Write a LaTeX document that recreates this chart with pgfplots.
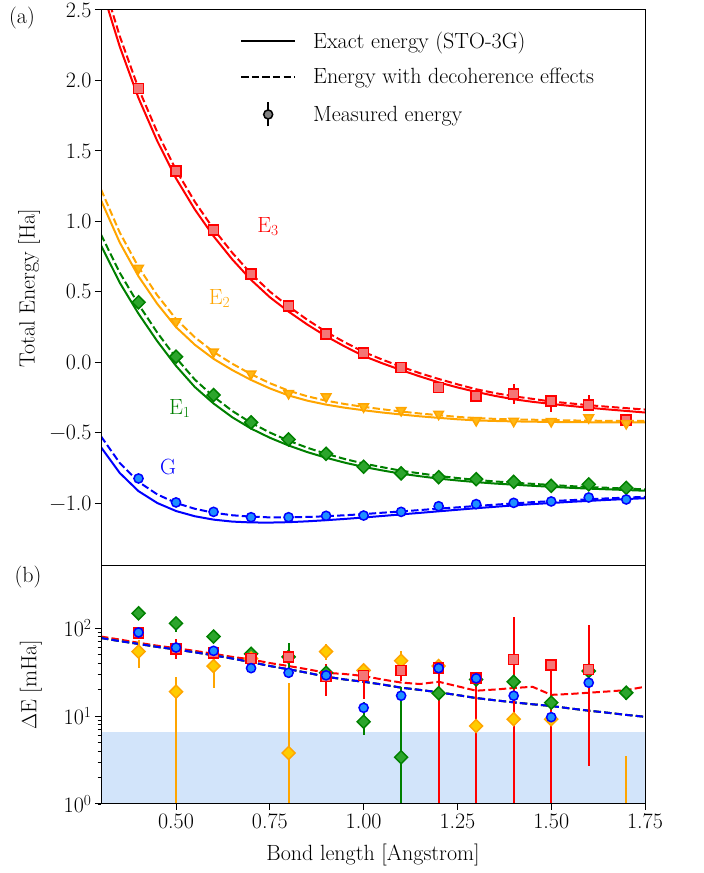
\documentclass[border=0pt]{standalone}
\usepackage{pgfplots}
\usepackage{pgfplotstable}
\pgfplotsset{compat=1.18}
\definecolor{redfill}{RGB}{244,118,118}
\definecolor{morange}{RGB}{255,165,0}
\definecolor{orangefill}{RGB}{255,184,20}
\definecolor{goldfill}{RGB}{255,204,0}
\definecolor{mgreen}{RGB}{0,128,0}
\definecolor{greenfill}{RGB}{44,165,44}
\definecolor{mblue}{RGB}{0,0,255}
\definecolor{bluefill}{RGB}{30,144,255}
\definecolor{band}{RGB}{210,228,250}
\newcommand{\bigf}{\fontsize{22}{26}\selectfont}

\pgfplotstableread{
R     Gs     Gd      E1s    E1d     E2s    E2d     E3s    E3d     dB    dR
0.30 -0.602 -0.525  0.830  0.907   1.150  1.227   2.670  2.750  77.0 80.0
0.35 -0.785 -0.714  0.565  0.636   0.850  0.921   2.240  2.314  71.0 74.0
0.40 -0.914 -0.848  0.345  0.411   0.610  0.676   1.875  1.943  66.0 68.0
0.45 -0.998 -0.937  0.150  0.211   0.415  0.476   1.570  1.633  61.0 63.0
0.50 -1.055 -0.998 -0.025  0.032   0.250  0.307   1.305  1.364  57.0 59.0
0.55 -1.092 -1.039 -0.175 -0.122   0.125  0.178   1.085  1.140  53.0 55.0
0.60 -1.116 -1.067 -0.292 -0.243   0.025  0.074   0.895  0.946  49.0 51.0
0.65 -1.130 -1.085 -0.390 -0.345  -0.055 -0.010   0.730  0.777  45.0 47.0
0.70 -1.136 -1.095 -0.470 -0.429  -0.125 -0.084   0.585  0.629  41.0 44.0
0.75 -1.137 -1.100 -0.535 -0.498  -0.185 -0.148   0.462  0.502  37.0 40.0
0.80 -1.134 -1.100 -0.590 -0.556  -0.235 -0.201   0.360  0.397  34.0 37.0
0.85 -1.128 -1.097 -0.637 -0.606  -0.272 -0.241   0.268  0.302  31.0 34.0
0.90 -1.120 -1.092 -0.677 -0.649  -0.300 -0.272   0.185  0.216  28.0 31.0
0.95 -1.111 -1.085 -0.712 -0.686  -0.322 -0.296   0.112  0.142  26.0 30.0
1.00 -1.101 -1.077 -0.742 -0.718  -0.340 -0.316   0.045  0.074  24.5 28.5
1.05 -1.090 -1.067 -0.767 -0.744  -0.356 -0.333  -0.007  0.019  22.8 26.0
1.10 -1.079 -1.058 -0.790 -0.769  -0.370 -0.349  -0.055 -0.031  21.0 24.0
1.15 -1.068 -1.048 -0.808 -0.788  -0.383 -0.363  -0.100 -0.077  19.8 23.1
1.20 -1.057 -1.038 -0.825 -0.806  -0.394 -0.375  -0.142 -0.118  18.6 24.5
1.25 -1.046 -1.029 -0.838 -0.821  -0.404 -0.387  -0.178 -0.156  17.3 21.8
1.30 -1.035 -1.019 -0.850 -0.834  -0.412 -0.396  -0.210 -0.191  16.0 19.4
1.35 -1.025 -1.010 -0.860 -0.845  -0.416 -0.401  -0.238 -0.218  15.1 20.0
1.40 -1.015 -1.001 -0.868 -0.854  -0.419 -0.405  -0.262 -0.241  14.3 20.8
1.45 -1.006 -0.992 -0.876 -0.862  -0.421 -0.407  -0.280 -0.259  13.6 21.5
1.50 -0.998 -0.985 -0.883 -0.870  -0.423 -0.410  -0.295 -0.278  13.0 17.4
1.55 -0.990 -0.978 -0.890 -0.878  -0.424 -0.412  -0.309 -0.291  12.2 17.8
1.60 -0.983 -0.972 -0.896 -0.885  -0.425 -0.414  -0.322 -0.304  11.5 18.4
1.65 -0.976 -0.965 -0.901 -0.890  -0.426 -0.415  -0.334 -0.315  10.9 19.0
1.70 -0.970 -0.960 -0.906 -0.896  -0.426 -0.416  -0.345 -0.325  10.3 19.7
1.75 -0.964 -0.954 -0.911 -0.901  -0.426 -0.416  -0.356 -0.335   9.8 21.5
}\curves

\pgfplotsset{
  common/.style={
    scale only axis, width=544pt,
    xmin=0.3, xmax=1.75,
    font=\bigf, tick label style={font=\bigf}, label style={font=\bigf},
    tick align=outside, xtick pos=left, ytick pos=left,
    major tick length=6pt, minor tick length=3.5pt,
    axis line style={line width=1pt},
    every tick/.style={black, line width=1pt},
    every minor tick/.style={black, line width=0.8pt},
    axis on top,
  },
  errs/.style={error bars/.cd, y dir=both, y explicit, error mark=none,
    error bar style={line width=2pt, #1}},
  solid curve/.style={#1, line width=2pt, no marks, forget plot},
  dash curve/.style={#1, line width=2pt, no marks, forget plot, dash pattern=on 7.4pt off 3.2pt},
}

\begin{document}
\begin{tikzpicture}[x=1pt,y=1pt]
\useasboundingbox (0,0) rectangle (704,873);

% ---------------- (a) ----------------
\begin{axis}[common, name=top,
  at={(101pt,863pt)}, anchor=north west, height=556pt,
  ymin=-1.445, ymax=2.5,
  xtick=\empty,
  ytick={-1,-0.5,0,0.5,1,1.5,2,2.5},
  yticklabels={−1.0,−0.5,0.0,0.5,1.0,1.5,2.0,2.5},
  ylabel={Total Energy [Ha]},
  ylabel style={at={(axis description cs:-0.132,0.5)}, anchor=center},
  legend style={draw=none, fill=none, font=\bigf, at={(axis description cs:0.2555,0.967)}, anchor=north west,
    row sep=13pt, column sep=14pt, legend cell align=left, inner sep=0pt, nodes={inner sep=3pt}},
]
\addlegendimage{legend image code/.code={\draw[black,line width=2pt] (0pt,0pt) -- (54pt,0pt);}}
\addlegendentry{Exact energy (STO-3G)}
\addlegendimage{legend image code/.code={\draw[black,line width=2pt,dash pattern=on 7.4pt off 3.2pt] (0pt,0pt) -- (54pt,0pt);}}
\addlegendentry{Energy with decoherence effects}
\addlegendimage{legend image code/.code={\draw[black,line width=2pt] (27pt,-12pt) -- (27pt,12pt); \draw[black,fill=gray,line width=1.5pt] (27pt,0pt) circle (4.5pt);}}
\addlegendentry{Measured energy}

\addplot[solid curve=red] table[x=R,y=E3s] {\curves};
\addplot[dash curve=red] table[x=R,y=E3d] {\curves};
\addplot[solid curve=morange] table[x=R,y=E2s] {\curves};
\addplot[dash curve=morange] table[x=R,y=E2d] {\curves};
\addplot[solid curve=mgreen] table[x=R,y=E1s] {\curves};
\addplot[dash curve=mgreen] table[x=R,y=E1d] {\curves};
\addplot[solid curve=mblue] table[x=R,y=Gs] {\curves};
\addplot[dash curve=mblue] table[x=R,y=Gd] {\curves};

% measured markers
\addplot[forget plot, only marks, mark=square*, mark size=5pt, mark options={draw=red, fill=redfill, line width=1.5pt}, errs=red]
coordinates {(0.4,1.943) (0.5,1.357) (0.6,0.938) (0.7,0.627) (0.8,0.400) (0.9,0.201) (1.0,0.066) (1.1,-0.036) (1.2,-0.178) (1.3,-0.240)
 (1.4,-0.225) += (0,0.07) -= (0,0.07)
 (1.5,-0.273) += (0,0.01) -= (0,0.08)
 (1.6,-0.301) += (0,0.07) -= (0,0.03)
 (1.7,-0.408) += (0,0.03) -= (0,0.03)};
\addplot[forget plot, only marks, mark=triangle*, mark size=5.5pt, mark options={rotate=180, draw=morange, fill=orangefill, line width=1.5pt}, errs=morange]
coordinates {(0.4,0.668) (0.5,0.288) (0.6,0.075) (0.7,-0.081) (0.8,-0.220) (0.9,-0.244) (1.0,-0.315) (1.1,-0.341) (1.2,-0.367) (1.3,-0.412) (1.4,-0.417) (1.5,-0.419) (1.6,-0.393) (1.7,-0.433)};
\addplot[forget plot, only marks, mark=square*, mark size=4.6pt, mark options={rotate=45, draw=mgreen, fill=greenfill, line width=1.5pt}, errs=mgreen]
coordinates {(0.4,0.426) (0.5,0.040) (0.6,-0.232) (0.7,-0.426) (0.8,-0.547) (0.9,-0.649) (1.0,-0.741) (1.1,-0.788) (1.2,-0.815) (1.3,-0.829) (1.4,-0.848) (1.5,-0.876) (1.6,-0.866) (1.7,-0.891)};
\addplot[forget plot, only marks, mark=*, mark size=4.6pt, mark options={draw=mblue, fill=bluefill, line width=1.5pt}, errs=mblue]
coordinates {(0.4,-0.824) (0.5,-0.994) (0.6,-1.061) (0.7,-1.099) (0.8,-1.099) (0.9,-1.089) (1.0,-1.087) (1.1,-1.061) (1.2,-1.021) (1.3,-1.006) (1.4,-0.997) (1.5,-0.987) (1.6,-0.959) (1.7,-0.973)};

\node[red, font=\bigf] at (axis cs:0.745,0.963) {E\textsubscript{3}};
\node[morange, font=\bigf] at (axis cs:0.616,0.455) {E\textsubscript{2}};
\node[mgreen, font=\bigf] at (axis cs:0.510,-0.327) {E\textsubscript{1}};
\node[mblue, font=\bigf] at (axis cs:0.479,-0.741) {G};
\end{axis}
\node[font=\bigf, shift={(-79pt,-8pt)}] at (top.north west) {(a)};

% ---------------- (b) ----------------
\begin{axis}[common, name=bot,
  at={(101pt,307pt)}, anchor=north west, height=238pt,
  ymode=log, ymin=1, ymax=507,
  ytick={1,10,100},
  yticklabels={10\textsuperscript{0},10\textsuperscript{1},10\textsuperscript{2}},
  xtick={0.5,0.75,1,1.25,1.5,1.75},
  xticklabels={0.50,0.75,1.00,1.25,1.50,1.75},
  xlabel={Bond length [Angstrom]},
  xlabel style={at={(axis description cs:0.5,-0.214)}, anchor=center},
  ylabel={$\Delta$E [mHa]},
  ylabel style={at={(axis description cs:-0.129,0.5)}, anchor=center},
]
\addplot[draw=none, fill=band, forget plot] coordinates {(0.3,0.5) (1.75,0.5) (1.75,6.58) (0.3,6.58)} -- cycle;

\addplot[dash curve=red] table[x=R,y=dR] {\curves};
\addplot[dash curve=morange] table[x=R,y=dB] {\curves};
\addplot[dash curve=mgreen] table[x=R,y=dB] {\curves};
\addplot[dash curve=mblue] table[x=R,y=dB] {\curves};

% green
\addplot[forget plot, only marks, mark=square*, mark size=4.6pt, mark options={rotate=45, draw=mgreen, fill=greenfill, line width=1.5pt}, errs=mgreen]
coordinates {
 (0.4,147) += (0,5) -= (0,5)
 (0.5,113) += (0,22) -= (0,22)
 (0.6,80) += (0,13) -= (0,13)
 (0.7,51) += (0,4) -= (0,4)
 (0.8,47) += (0,20) -= (0,20)
 (0.9,31) += (0,3) -= (0,3)
 (1.0,8.6) += (0,5.9) -= (0,2.5)
 (1.1,3.4) += (0,18) -= (0,3.0)
 (1.2,18.1) += (0,2) -= (0,2)
 (1.3,26) += (0,4) -= (0,4)
 (1.4,24.5) += (0,3) -= (0,3)
 (1.5,14.2) += (0,2) -= (0,2)
 (1.6,32.5) += (0,2) -= (0,2)
 (1.7,18.4) += (0,3) -= (0,3)};
% orange
\addplot[forget plot, only marks, mark=square*, mark size=4.6pt, mark options={rotate=45, draw=morange, fill=goldfill, line width=1.5pt}, errs=morange]
coordinates {
 (0.4,54) += (0,19) -= (0,19)
 (0.5,18.9) += (0,8.6) -= (0,18.4)
 (0.6,37) += (0,16) -= (0,16)
 (0.7,45) += (0,2) -= (0,2)
 (0.8,3.8) += (0,20) -= (0,3.3)
 (0.9,54) += (0,11) -= (0,11)
 (1.0,33) += (0,3) -= (0,3)
 (1.1,42.5) += (0,12.5) -= (0,10)
 (1.2,37) += (0,2) -= (0,2)
 (1.3,7.7) += (0,6.8) -= (0,7.2)
 (1.4,9.2) += (0,1) -= (0,1)
 (1.5,9.2) += (0,1) -= (0,1)};
\addplot[forget plot, only marks, mark=*, mark size=0pt, mark options={draw=none, fill=none}, errs=morange] coordinates {(1.7,1.5) += (0,2.0) -= (0,1.2)};
% red
\addplot[forget plot, only marks, mark=square*, mark size=5pt, mark options={draw=red, fill=redfill, line width=1.5pt}, errs=red]
coordinates {
 (0.4,88) += (0,3) -= (0,3)
 (0.5,58) += (0,17) -= (0,14)
 (0.6,52) += (0,3) -= (0,3)
 (0.7,45) += (0,3) -= (0,3)
 (0.8,47) += (0,3) -= (0,3)
 (0.9,28) += (0,11) -= (0,11)
 (1.0,29) += (0,4) -= (0,13.5)
 (1.1,33) += (0,8) -= (0,8)
 (1.2,35) += (0,2) -= (0,34.5)
 (1.3,27) += (0,3) -= (0,26.5)
 (1.4,44) += (0,88) -= (0,43.5)
 (1.5,38) += (0,1) -= (0,37.5)
 (1.6,34) += (0,74) -= (0,31.3)};
% blue
\addplot[forget plot, only marks, mark=*, mark size=4.6pt, mark options={draw=mblue, fill=bluefill, line width=1.5pt}, errs=mblue]
coordinates {
 (0.4,89) += (0,2) -= (0,2)
 (0.5,60) += (0,2) -= (0,2)
 (0.6,55) += (0,2) -= (0,2)
 (0.7,35) += (0,1) -= (0,1)
 (0.8,31) += (0,1) -= (0,1)
 (0.9,29) += (0,1) -= (0,1)
 (1.0,12.4) += (0,1) -= (0,1)
 (1.1,17) += (0,1) -= (0,1)
 (1.2,35) += (0,1) -= (0,1)
 (1.3,26.8) += (0,3) -= (0,3)
 (1.4,17) += (0,1) -= (0,1)
 (1.5,9.7) += (0,1) -= (0,1)
 (1.6,23.9) += (0,1) -= (0,1)};
\end{axis}
\node[font=\bigf, shift={(-73pt,-11pt)}] at (bot.north west) {(b)};
\end{tikzpicture}
\end{document}
